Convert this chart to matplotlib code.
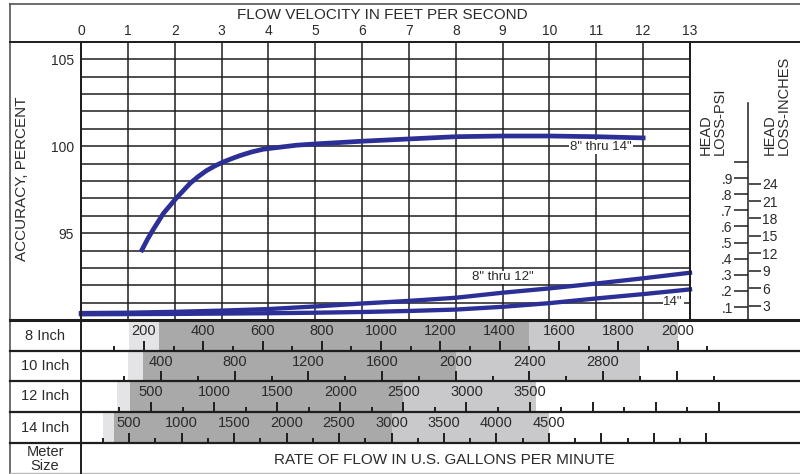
import numpy as np
import matplotlib.pyplot as plt

plt.rcParams['font.family'] = ['Liberation Sans', 'DejaVu Sans']

# ---- data ----
velocity_ticks = list(range(0, 14))
accuracy_ticks = list(range(90, 107))
accuracy_labels = {95: '95', 100: '100', 105: '105'}

# accuracy curve, 8" thru 14" meters
acc_v = [1.3, 1.42, 1.54, 1.76, 2.03, 2.33, 2.5, 2.68, 2.86, 3.04, 3.22,
         3.39, 3.64, 3.89, 4.6, 5.1, 5.5, 6.0, 7.0, 8.0, 9.0, 10.0, 11.0,
         12.0]
acc_pct = [94.03, 94.65, 95.2, 96.14, 97.0, 97.87, 98.25, 98.6, 98.87,
           99.1, 99.29, 99.46, 99.67, 99.83, 100.06, 100.15, 100.21, 100.29,
           100.42, 100.55, 100.59, 100.59, 100.55, 100.48]

# head loss curves (plotted on the same grid)
hl_v = list(range(0, 14))
hl_8_12 = [90.4, 90.42, 90.47, 90.54, 90.63, 90.78, 90.95, 91.1, 91.28,
           91.57, 91.82, 92.1, 92.4, 92.72]
hl_14 = [90.33, 90.34, 90.35, 90.37, 90.39, 90.42, 90.46, 90.52, 90.6,
         90.76, 90.97, 91.24, 91.49, 91.76]

# head loss scales
psi_ticks = [0.1, 0.2, 0.3, 0.4, 0.5, 0.6, 0.7, 0.8, 0.9, 1.0]
psi_labels = ['.1', '.2', '.3', '.4', '.5', '.6', '.7', '.8', '.9', '']
inch_ticks = [3, 6, 9, 12, 15, 18, 21, 24]
INCH_PER_PSI = 27.7

# flow rate rows
meter_sizes = ['8 Inch', '10 Inch', '12 Inch', '14 Inch']
gpm_major = [list(range(200, 2001, 200)), list(range(400, 3201, 400)),
             list(range(500, 5001, 500)), list(range(500, 6001, 500))]
gpm_minor = [list(range(100, 2101, 200)), list(range(200, 3401, 400)),
             list(range(250, 4751, 500)), list(range(250, 5751, 500))]
gpm_label_max = [2000, 2800, 3500, 4500]
band_edges = [(150, 250, 1500, 2000), (220, 300, 2000, 3000),
              (230, 335, 2500, 3550), (250, 350, 3000, 4500)]
row_gpm_range = [(-12.5, 2413), (-34.2, 3869), (-54.7, 5643), (40.0, 6894)]

# ---- layout / style ----
W, H = 800, 474
BLUE = '#2b2f96'
LINE = '#1e1e1e'
TXT = '#2a2a2a'
LIGHT1 = '#e4e4e6'
DARK = '#a9a9a9'
LIGHT2 = '#c9c9cb'
HL_ZERO_ACC = 89.82
HL_ACC_PER_PSI = 9.27


def fbox(x0, y0, x1, y1):
    return [x0 / W, 1 - y1 / H, (x1 - x0) / W, (y1 - y0) / H]


fig = plt.figure(figsize=(8, 4.74), dpi=100)

# main accuracy / head loss grid
ax = fig.add_axes(fbox(81, 42, 690, 320))
ax.set_xlim(0, 13)
ax.set_ylim(90, 106)
ax.set_xticks(velocity_ticks)
ax.set_yticks(accuracy_ticks)
ax.set_yticklabels([accuracy_labels.get(t, '') for t in accuracy_ticks])
ax.xaxis.tick_top()
ax.tick_params(length=0, labelsize=10, colors=TXT)
ax.tick_params(axis='x', pad=3)
ax.tick_params(axis='y', pad=5)
ax.grid(True, color=LINE, lw=1.1)
for s in ax.spines.values():
    s.set_color(LINE)
    s.set_linewidth(1.1)

ax.plot(acc_v, acc_pct, color=BLUE, lw=3.4, zorder=3,
        solid_joinstyle='round')
ax.plot(hl_v, hl_8_12, color=BLUE, lw=3.1, zorder=3, clip_on=False,
        solid_joinstyle='round')
ax.plot(hl_v, hl_14, color=BLUE, lw=3.1, zorder=3, clip_on=False,
        solid_joinstyle='round')

lbl_box = dict(facecolor='white', edgecolor='none', pad=0.6)
ax.text(11.1, 99.97, '8" thru 14"', ha='center', va='center', fontsize=9.5,
        color=TXT, bbox=lbl_box, zorder=4)
ax.text(9.0, 92.45, '8" thru 12"', ha='center', va='center', fontsize=9.5,
        color=TXT, bbox=lbl_box, zorder=4)
ax.text(12.64, 91.02, '14"', ha='center', va='center', fontsize=9.5,
        color=TXT, bbox=lbl_box, zorder=4)

# head loss scale
def psi_of_acc(a):
    return (a - HL_ZERO_ACC) / HL_ACC_PER_PSI


ax_hl = fig.add_axes(fbox(748, 42, 748.6, 320))
ax_hl.set_ylim(psi_of_acc(90), psi_of_acc(106))
ax_hl.patch.set_visible(False)
for side in ['top', 'bottom', 'right']:
    ax_hl.spines[side].set_visible(False)
ax_hl.spines['left'].set_bounds(psi_of_acc(90), psi_of_acc(102.49))
ax_hl.spines['left'].set_color(LINE)
ax_hl.spines['left'].set_linewidth(1.1)
ax_hl.set_xticks([])
ax_hl.set_yticks(psi_ticks)
ax_hl.set_yticklabels(psi_labels)
ax_hl.tick_params(axis='y', direction='out', length=10, width=1.1, pad=1,
                  labelsize=10, colors=LINE, labelcolor=TXT)

ax_in = ax_hl.twinx()
ax_in.set_ylim(np.array(ax_hl.get_ylim()) * INCH_PER_PSI)
for s in ax_in.spines.values():
    s.set_visible(False)
ax_in.set_yticks(inch_ticks)
ax_in.tick_params(axis='y', direction='out', length=8.5, width=1.1, pad=1.5,
                  labelsize=10, colors=LINE, labelcolor=TXT)

# flow rate rows
row_tops = [320, 351, 381, 412]
row_bots = [351, 381, 412, 443]
for i, size in enumerate(meter_sizes):
    rax = fig.add_axes(fbox(81, row_tops[i], 800, row_bots[i]))
    rax.set_xlim(*row_gpm_range[i])
    rax.set_ylim(0, 1)
    a, b, c, d = band_edges[i]
    rax.axvspan(a, b, color=LIGHT1, lw=0)
    rax.axvspan(b, c, color=DARK, lw=0)
    rax.axvspan(c, d, color=LIGHT2, lw=0)
    rax.set_xticks(gpm_major[i])
    rax.set_xticks(gpm_minor[i], minor=True)
    rax.tick_params(axis='x', which='major', direction='in', length=7.5,
                    width=1.4, color=LINE, labelbottom=False)
    rax.tick_params(axis='x', which='minor', direction='in', length=3.5,
                    width=1.4, color=LINE)
    rax.set_yticks([])
    for s in rax.spines.values():
        s.set_visible(False)
    for g in gpm_major[i]:
        if g <= gpm_label_max[i]:
            rax.text(g, 0.64, str(g), ha='center', va='center',
                     fontsize=10.5, color=TXT)
    fig.text(45 / W, 1 - (row_tops[i] + row_bots[i]) / 2 / H, size,
             ha='center', va='center', fontsize=10.5, color=TXT)

# frame lines and captions
bg = fig.add_axes([0, 0, 1, 1], zorder=10)
bg.set_xlim(0, W)
bg.set_ylim(H, 0)
bg.axis('off')
bg.patch.set_visible(False)
bg.plot([10, 800], [4, 4], color='#555555', lw=1.2)
bg.plot([10, 10], [4, 474], color='#555555', lw=1.2)
bg.plot([10, 800], [472.5, 472.5], color='#bbbbbb', lw=1.0)
bg.plot([10, 800], [42, 42], color=LINE, lw=1.4)
bg.plot([81, 81], [42, 474], color=LINE, lw=1.4)
bg.plot([690, 690], [42, 320], color=LINE, lw=1.4)
bg.plot([10, 800], [320, 320], color=LINE, lw=2.2)
for y in row_bots:
    bg.plot([10, 800], [y, y], color=LINE, lw=1.6)

bg.text(382, 15, 'FLOW VELOCITY IN FEET PER SECOND', ha='center',
        va='center', fontsize=11, color=TXT)
bg.text(22, 179, 'ACCURACY, PERCENT', rotation=90, ha='center',
        va='center', fontsize=11, color=TXT)
bg.text(713, 155, 'HEAD\nLOSS-PSI', rotation=90, ha='center', va='bottom',
        multialignment='left', fontsize=10.5, color=TXT, linespacing=1.0)
bg.text(777, 155, 'HEAD\nLOSS-INCHES', rotation=90, ha='center',
        va='bottom', multialignment='left', fontsize=10.5, color=TXT,
        linespacing=1.0)
bg.text(45, 459, 'Meter\nSize', ha='center', va='center', fontsize=10.5,
        color=TXT, linespacing=0.95)
bg.text(444, 460, 'RATE OF FLOW IN U.S. GALLONS PER MINUTE', ha='center',
        va='center', fontsize=11, color=TXT)

fig.savefig('out.png', dpi=100)
